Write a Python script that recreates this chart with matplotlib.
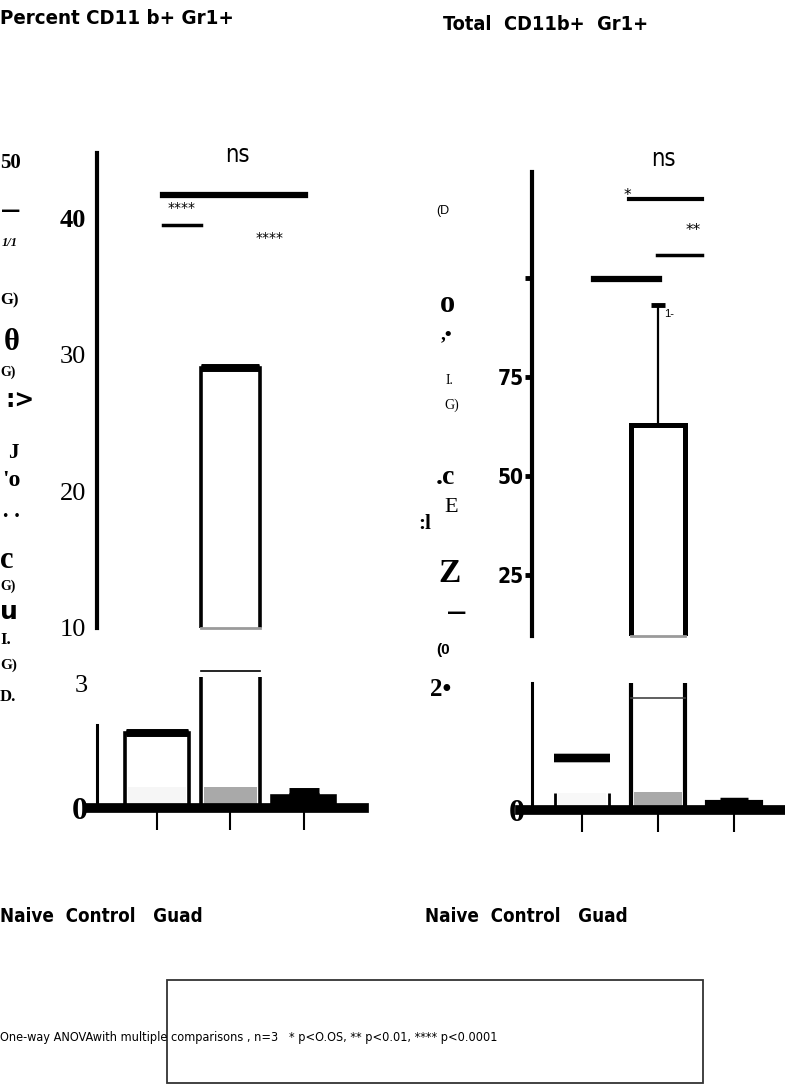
import matplotlib
matplotlib.use("Agg")
import matplotlib.pyplot as plt
from matplotlib.patches import Rectangle

# values
groups = ["Naive", "Control", "Guad"]
xpos = [0, 1, 2]

pct_mean = [1.8, 29.0, 0.30]
pct_sd = [0.03, 0.1, 0.12]
pct_shade = [0.5, 0.5, 0.0]

tot_mean = [4.2, 62.9, 0.65]
tot_sd = [0.0, 30.3, 0.25]
tot_shade = [1.4, 1.45, 0.0]

pct_ticks_top = [10, 20, 30, 40]
pct_ticks_bot = [0, 3]
tot_ticks_top = [25, 50, 75, 100]
tot_ticklabels_top = ["25", "50", "75", ""]

W, H = 785, 1086
fig = plt.figure(figsize=(W / 100, H / 100), dpi=100)


def rect(x0, y0, x1, y1):
    return [x0 / W, 1 - y1 / H, (x1 - x0) / W, (y1 - y0) / H]


def put(x, y, s, **kw):
    kw.setdefault("va", "center")
    fig.text(x / W, 1 - y / H, s, **kw)


serif = "Liberation Serif"
sans = ["Liberation Sans", "DejaVu Sans"]
cond = dict(family="DejaVu Sans", fontstretch="condensed")


def clean(ax, bottom=True):
    ax.set_facecolor("none")
    ax.spines["top"].set_visible(False)
    ax.spines["right"].set_visible(False)
    if not bottom:
        ax.spines["bottom"].set_visible(False)
        ax.set_xticks([])


# ---------------- left panel: percent ----------------
bw_l = [0.86, 0.80, 0.86]
axLt = fig.add_axes(rect(88, 153, 364, 628))
axLb = fig.add_axes(rect(88, 677, 364, 808))
for ax in (axLt, axLb):
    ax.set_xlim(-0.94, 2.82)
    ax.spines["left"].set_position(("data", -0.816))

clean(axLt, bottom=False)
axLt.set_ylim(10, 44.75)
axLt.spines["left"].set_linewidth(3)
axLt.bar(xpos, pct_mean, width=bw_l, color="white", edgecolor="black", linewidth=2.6)
axLt.errorbar(1, pct_mean[1], yerr=[[0], [pct_sd[1]]], fmt="none", ecolor="black",
              capsize=21, capthick=5)
lo = axLt.get_ylim()[0]
axLt.plot([1 - bw_l[1] / 2, 1 + bw_l[1] / 2], [lo, lo], color="#9a9a9a", lw=2, clip_on=False)
axLt.set_yticks(pct_ticks_top)
axLt.set_yticklabels([str(v) for v in pct_ticks_top], family=serif, fontsize=19)
axLt.get_yticklabels()[3].set_fontweight("bold")
axLt.tick_params(axis="y", length=0, pad=8)

# significance, percent
axLt.plot([0.08, 2.02], [41.7, 41.7], color="black", lw=4.5, clip_on=False)
axLt.plot([0.08, 0.60], [39.5, 39.5], color="black", lw=2.5, clip_on=False)
axLt.text(0.33, 40.7, "****", ha="center", va="center", fontsize=10)
axLt.text(1.53, 38.5, "****", ha="center", va="center", fontsize=10)
axLt.text(1.1, 44.6, "ns", ha="center", va="center", fontsize=17, clip_on=False, **cond)

clean(axLb)
axLb.set_ylim(0, 3.15)
axLb.bar(xpos, pct_mean, width=bw_l, color=["white", "white", "black"],
         edgecolor="black", linewidth=2.6)
axLb.bar(xpos, pct_shade, width=[w - 0.07 for w in bw_l],
         color=["#f6f6f6", "#a9a9a9", "none"], edgecolor="none")
for i, cs in ((0, 22), (2, 11)):
    axLb.errorbar(xpos[i], pct_mean[i], yerr=[[0], [pct_sd[i]]], fmt="none",
                  ecolor="black", capsize=cs, capthick=5)
axLb.plot([1 - bw_l[1] / 2, 1 + bw_l[1] / 2], [3.3, 3.3], color="black", lw=1.2, clip_on=False)
axLb.spines["left"].set_bounds(0, 2.0)
axLb.spines["left"].set_linewidth(2.2)
axLb.spines["bottom"].set_linewidth(7)
axLb.set_xticks(xpos)
axLb.set_xticklabels([])
axLb.tick_params(axis="x", direction="out", length=16, width=1.5)
axLb.set_yticks(pct_ticks_bot)
axLb.set_yticklabels([str(v) for v in pct_ticks_bot], family=serif, fontsize=19)
axLb.get_yticklabels()[0].set_fontweight("bold")
axLb.get_yticklabels()[0].set_fontsize(23)
axLb.tick_params(axis="y", length=0, pad=7)

# ---------------- right panel: total ----------------
bw_r = 0.70
axRt = fig.add_axes(rect(520, 172, 785, 636))
axRb = fig.add_axes(rect(520, 683, 785, 810))
for ax in (axRt, axRb):
    ax.set_xlim(-0.816, 2.67)
    ax.spines["left"].set_position(("data", -0.658))

clean(axRt, bottom=False)
axRt.set_ylim(9.6, 126.8)
axRt.spines["left"].set_linewidth(3)
axRt.bar(xpos, tot_mean, width=bw_r, color="white", edgecolor="black", linewidth=3.6)
axRt.errorbar(1, tot_mean[1], yerr=[[0], [tot_sd[1]]], fmt="none", ecolor="black",
              elinewidth=1.6, capsize=5, capthick=3.5)
lo = axRt.get_ylim()[0]
axRt.plot([1 - bw_r / 2, 1 + bw_r / 2], [lo, lo], color="#9a9a9a", lw=2, clip_on=False)
axRt.set_yticks(tot_ticks_top)
axRt.set_yticklabels(tot_ticklabels_top, fontsize=15, fontweight="bold", **cond)
axRt.tick_params(axis="y", direction="out", length=5, width=3.5, pad=1)

# significance, total
axRt.plot([0.62, 1.58], [119.9, 119.9], color="black", lw=3, clip_on=False)
axRt.plot([0.99, 1.58], [105.8, 105.8], color="black", lw=2.5, clip_on=False)
axRt.plot([0.16, 1.01], [99.7, 99.7], color="black", lw=4.5, clip_on=False)
axRt.text(0.59, 120.9, "*", ha="center", va="center", fontsize=11)
axRt.text(1.46, 112.0, "**", ha="center", va="center", fontsize=11)
axRt.text(1.07, 130.0, "ns", ha="center", va="center", fontsize=17, clip_on=False, **cond)
axRt.text(1.08, 91.0, "1-", ha="left", va="center", fontsize=8, family=sans)

clean(axRb)
axRb.set_ylim(0, 10.3)
axRb.bar(xpos, tot_mean, width=bw_r, color=["white", "white", "black"],
         edgecolor=["none", "black", "black"], linewidth=3)
axRb.bar(xpos, tot_shade, width=bw_r - 0.06,
         color=["#f8f8f8", "#a9a9a9", "none"], edgecolor="none")
axRb.vlines([xpos[0] - bw_r / 2, xpos[0] + bw_r / 2], 0, tot_shade[0], color="black", lw=2)
for i, cs, ct in ((0, 20, 6), (2, 10, 2.5)):
    axRb.errorbar(xpos[i], tot_mean[i], yerr=[[0], [tot_sd[i]]], fmt="none",
                  ecolor="black", capsize=cs, capthick=ct)
axRb.plot([1 - bw_r / 2, 1 + bw_r / 2], [9.1, 9.1], color="#444444", lw=1.2)
axRb.spines["left"].set_linewidth(2.2)
axRb.spines["bottom"].set_linewidth(7)
axRb.set_xticks(xpos)
axRb.set_xticklabels([])
axRb.tick_params(axis="x", direction="out", length=16, width=1.5)
axRb.set_yticks([0])
axRb.set_yticklabels(["0"], family=serif, fontsize=23, fontweight="bold")
axRb.tick_params(axis="y", length=0, pad=5)

# ---------------- titles and labels ----------------
put(0, 18, "Percent CD11 b+ Gr1+", fontsize=14.7, fontweight="bold", **cond)
put(443, 25, "Total  CD11b+  Gr1+", fontsize=14.3, fontweight="bold", **cond)
put(0, 916, "Naive  Control   Guad", fontsize=13.5, fontweight="bold", **cond)
put(425, 916, "Naive  Control   Guad", fontsize=13.5, fontweight="bold", **cond)

# garbled y-axis label fragments, left
left_bits = [
    (0, 163, "50", dict(family=serif, fontsize=15, fontweight="bold")),
    (1, 211, "\u2014", dict(fontsize=14, fontweight="bold")),
    (2, 243, "1/1", dict(family=serif, fontsize=9, style="italic", fontweight="bold")),
    (0, 300, "G)", dict(family=serif, fontsize=12, fontweight="bold")),
    (4, 342, "\u03b8", dict(family=serif, fontsize=22, fontweight="bold")),
    (0, 372, "G)", dict(family=serif, fontsize=10, fontweight="bold")),
    (5, 400, ":>", dict(fontsize=17, fontweight="bold")),
    (8, 453, "J", dict(family=serif, fontsize=15, fontweight="bold")),
    (2, 480, "'o", dict(family=serif, fontsize=17, fontweight="bold")),
    (2, 517, "\u2022 \u2022", dict(fontsize=9)),
    (0, 560, "c", dict(family=serif, fontsize=22, fontweight="bold")),
    (0, 586, "G)", dict(family=serif, fontsize=10, fontweight="bold")),
    (0, 612, "u", dict(fontsize=18, fontweight="bold")),
    (0, 640, "I.", dict(family=serif, fontsize=12, fontweight="bold")),
    (0, 665, "G)", dict(family=serif, fontsize=11, fontweight="bold")),
    (0, 697, "D.", dict(family=serif, fontsize=12, fontweight="bold")),
]
for x, y, s, kw in left_bits:
    put(x, y, s, **kw)

# garbled y-axis label fragments, right
right_bits = [
    (436, 211, "(D", dict(family=sans, fontsize=9)),
    (440, 305, "o", dict(family=serif, fontsize=22, fontweight="bold")),
    (441, 335, ",\u2022", dict(family=serif, fontsize=14, fontweight="bold")),
    (446, 380, "I.", dict(family=serif, fontsize=10)),
    (444, 405, "G)", dict(family=serif, fontsize=10)),
    (436, 478, ".c", dict(family=serif, fontsize=20, fontweight="bold")),
    (444, 508, "E", dict(family=serif, fontsize=16)),
    (418, 524, ":l", dict(family=serif, fontsize=15, fontweight="bold")),
    (438, 573, "Z", dict(family=serif, fontsize=24, fontweight="bold")),
    (447, 612, "\u2014", dict(fontsize=14, fontweight="bold")),
    (436, 650, "(0", dict(family=sans, fontsize=11, fontweight="bold")),
    (430, 690, "2\u2022", dict(family=serif, fontsize=18, fontweight="bold")),
]
for x, y, s, kw in right_bits:
    put(x, y, s, **kw)

# footnote and box
put(0, 1038, "One-way ANOVAwith multiple comparisons , n=3   * p<O.OS, ** p<0.01, **** p<0.0001",
    fontsize=9.1, **cond)
fig.add_artist(Rectangle((167 / W, 1 - 1083 / H), (703 - 167) / W, (1083 - 980) / H,
                         transform=fig.transFigure, fill=False, edgecolor="#333333", lw=1.3))

fig.savefig("out.png", dpi=100)
